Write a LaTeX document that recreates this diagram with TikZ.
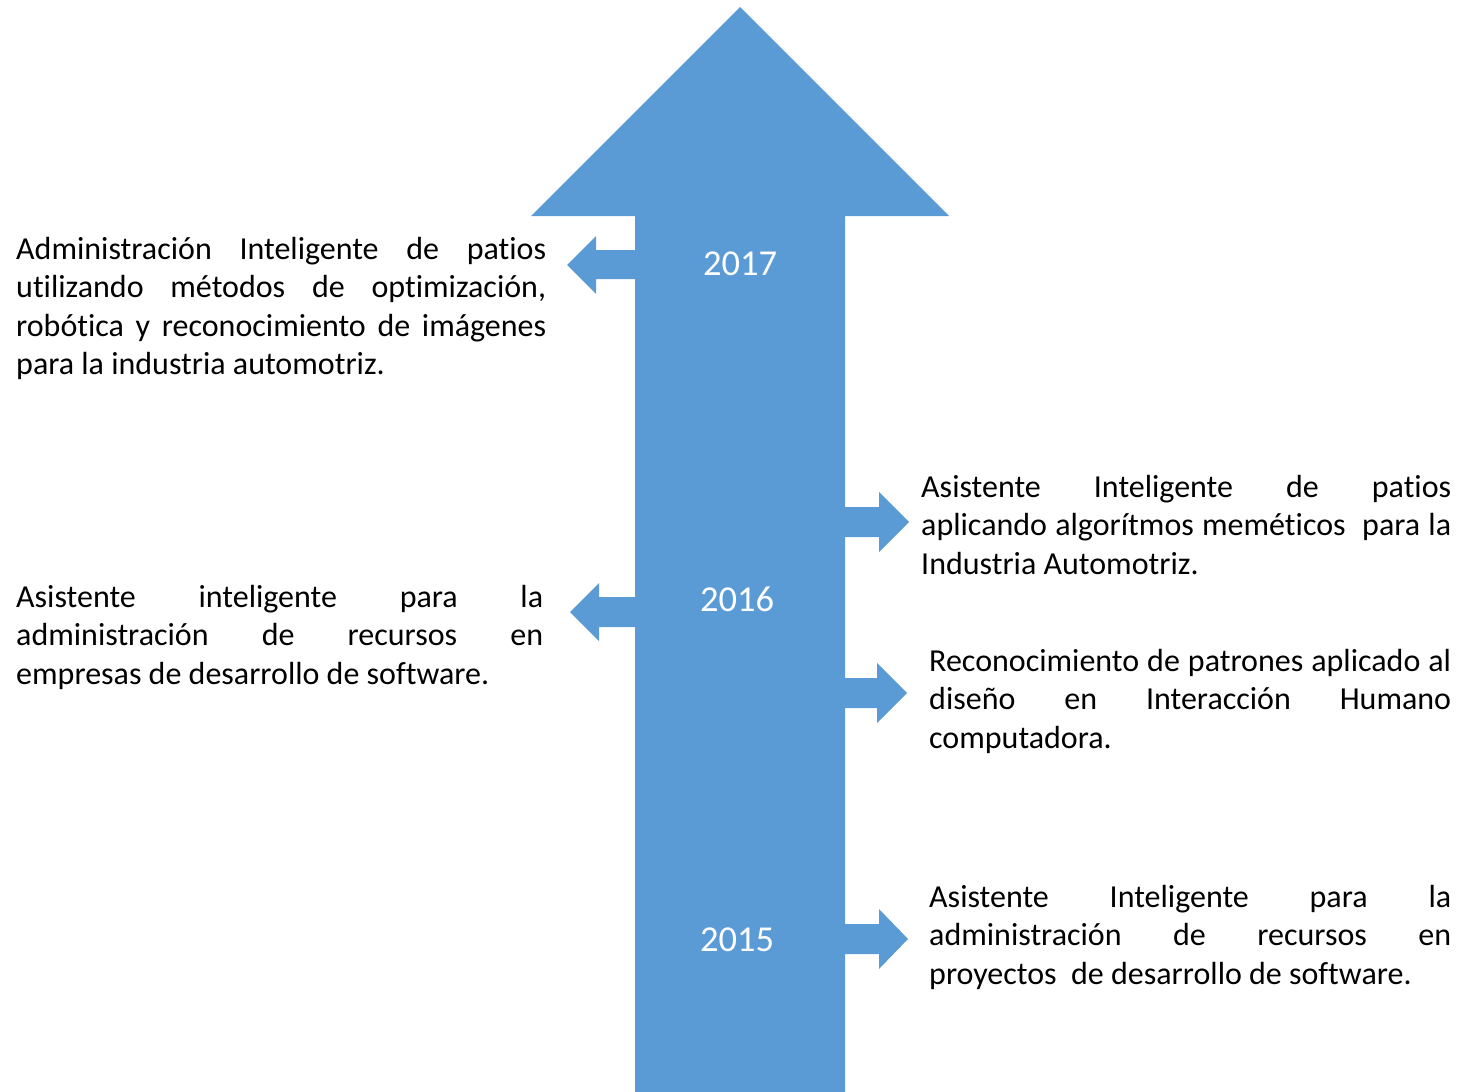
\documentclass[tikz,border=0pt]{standalone}
\usepackage{fontspec}
\setmainfont[Ligatures=NoCommon,Contextuals=NoAlternate]{Carlito}
\definecolor{tlblue}{HTML}{5B9BD5}
\tikzset{
  shape fill/.style={fill=tlblue, draw=none},
  desc/.style={anchor=base west, inner sep=0pt, align=justify, text=black,
    font=\fontsize{32}{38.6}\selectfont},
  year/.style={anchor=base, inner sep=0pt, text=white,
    font=\fontsize{36.5}{43}\selectfont}
}
\begin{document}
\begin{tikzpicture}[x=1pt,y=-1pt]
\useasboundingbox (0,0) rectangle (1462,1092);
% main arrow
\fill[shape fill] (740,7) -- (949,216) -- (845,216) -- (845,1092) -- (635,1092) -- (635,216) -- (531,216) -- cycle;
% left arrow 2017
\fill[shape fill] (640,250) -- (596,250) -- (596,236) -- (567,265) -- (596,294) -- (596,279) -- (640,279) -- cycle;
% left arrow 2016
\fill[shape fill] (640,597) -- (599,597) -- (599,583) -- (570,612) -- (599,641) -- (599,627) -- (640,627) -- cycle;
% right arrows
\fill[shape fill] (840,507) -- (879,507) -- (879,492) -- (909,522) -- (879,552) -- (879,537) -- (840,537) -- cycle;
\fill[shape fill] (840,678) -- (877,678) -- (877,663) -- (907,693) -- (877,723) -- (877,708) -- (840,708) -- cycle;
\fill[shape fill] (840,924) -- (879,924) -- (879,909) -- (908,939) -- (879,969) -- (879,954) -- (840,954) -- cycle;
% years
\node[year] (y2017) at (740,275) {2017};
\node[year] (y2016) at (737,611) {2016};
\node[year] (y2015) at (737,951) {2015};
% descriptions
\node[desc, text width=530pt] (l1) at (16,259) {Administración Inteligente de patios\linebreak utilizando métodos de optimización,\linebreak robótica y reconocimiento de imágenes\linebreak para la industria automotriz.};
\node[desc, text width=527pt] (l2) at (16,607) {Asistente inteligente para la\linebreak administración de recursos en\linebreak empresas de desarrollo de software.};
\node[desc, text width=530pt] (r1) at (921,497) {Asistente Inteligente de patios\linebreak aplicando algorítmos meméticos\ \ para la\linebreak Industria Automotriz.};
\node[desc, text width=522pt] (r2) at (929,671) {Reconocimiento de patrones aplicado al\linebreak diseño en Interacción Humano\linebreak computadora.};
\node[desc, text width=522pt] (r3) at (929,907) {Asistente Inteligente para la\linebreak administración de recursos en\linebreak proyectos\ \ de desarrollo de software.};
\end{tikzpicture}
\end{document}
